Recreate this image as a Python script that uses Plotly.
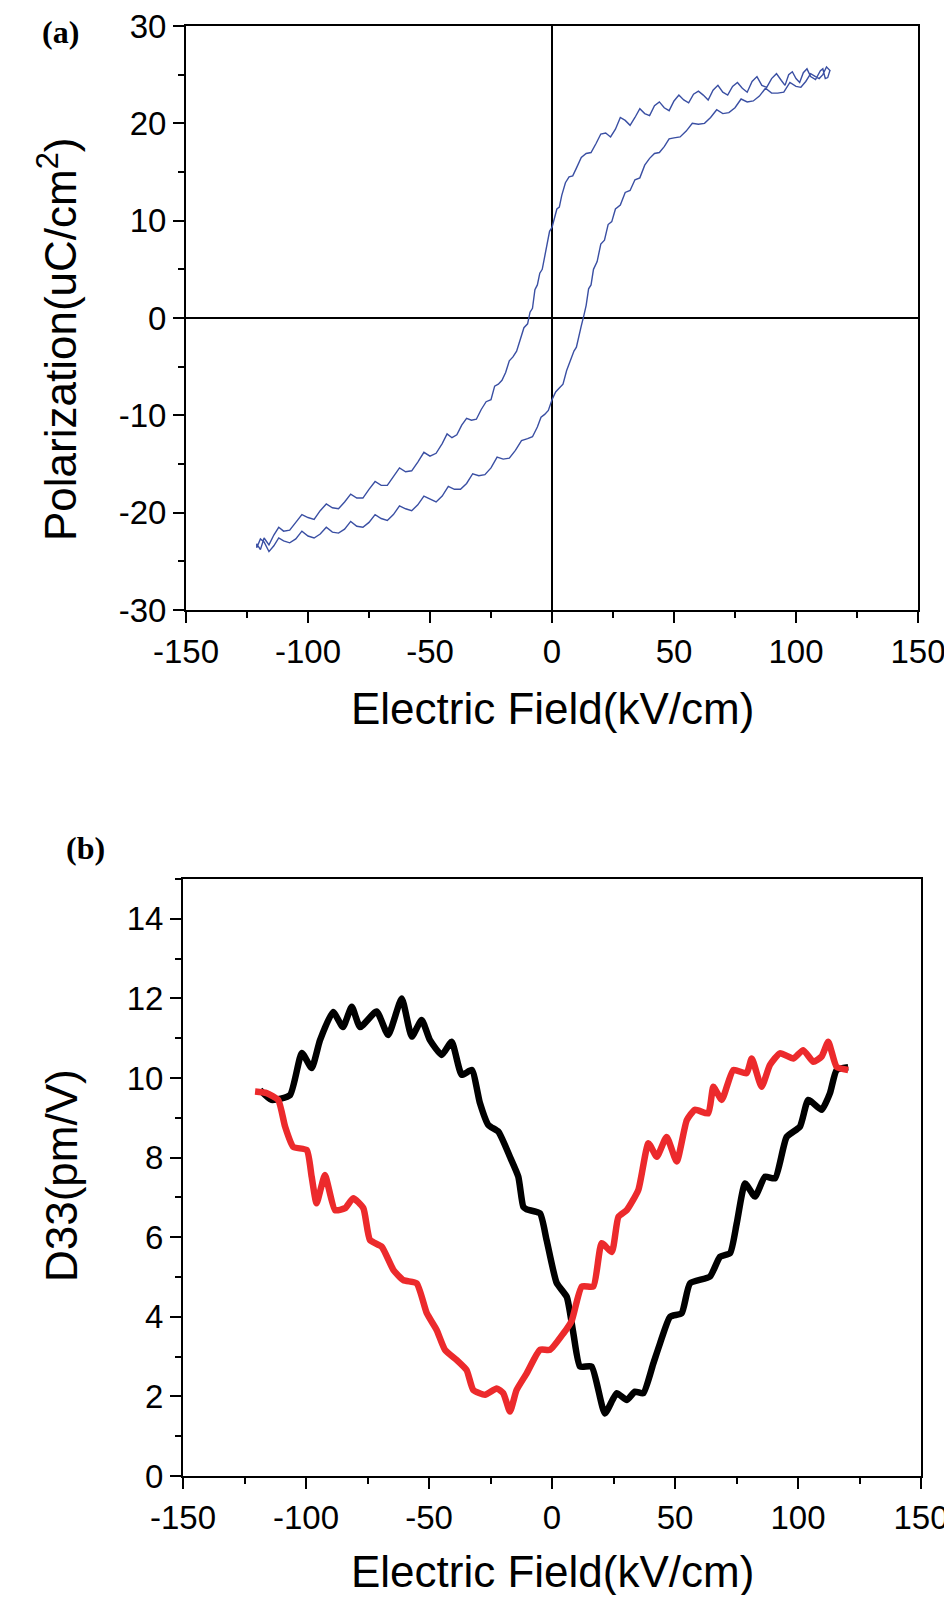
import plotly.graph_objects as go

# ---------------- Panel (a): P-E hysteresis loop ----------------
# descending branch (from +Emax to -Emax)
E_down = [114, 113, 112, 111, 110, 108, 106, 104.5, 103, 101.5, 100, 98.5, 97, 95.5, 94, 92, 90, 88, 86, 84,
          82, 80, 78, 76, 74, 72, 70, 68, 66, 64, 62, 60, 58, 56, 54, 52, 50, 48, 46, 44,
          42, 40, 38, 36, 34, 32, 30, 28, 26, 24, 22, 20, 18, 16, 14, 12, 10, 8.5, 7, 5.5,
          4, 3, 2, 1, 0, -1, -2, -3, -4, -5, -6, -7, -8, -9, -10, -11.5, -13, -14.5, -16, -17.5,
          -19, -20.5, -22, -23.5, -25, -27, -29, -31, -33, -35, -37, -39, -41, -43, -45, -47.5, -50, -52.5, -55, -57.5,
          -60, -62.5, -65, -67.5, -70, -72.5, -75, -77.5, -80, -82.5, -85, -87.5, -90, -92.5, -95, -97.5, -100, -102.5,
          -105, -107.5, -110, -112, -114, -116, -118, -119.5, -121]
P_down = [25.5, 24.7, 24.6, 25.6, 25.4, 24.5, 24.8, 25.6, 25.2, 24.2, 24.6, 25.3, 25.0, 23.9, 24.4, 25.1, 24.6, 23.7, 23.9, 24.8,
          24.3, 23.2, 23.6, 24.2, 23.8, 22.9, 23.2, 23.9, 23.4, 22.4, 22.9, 23.3, 23.0, 22.1, 22.4, 22.9, 22.3, 21.3, 21.6, 22.2,
          21.8, 20.8, 21.0, 21.5, 20.6, 19.8, 20.3, 20.6, 19.4, 18.6, 19.0, 18.9, 17.9, 17.0, 16.9, 16.5, 15.4, 14.6, 14.5, 13.9,
          12.6, 11.4, 11.2, 10.3, 9.3, 8.9, 7.6, 6.6, 5.0, 4.6, 3.4, 2.9, 1.0, 0.6, -0.6, -1.0, -2.3, -3.4, -4.0, -4.4,
          -5.6, -6.4, -6.8, -7.0, -8.4, -8.6, -9.4, -10.4, -10.5, -10.3, -11.0, -12.0, -12.3, -11.9, -12.9, -13.9, -14.2, -13.8, -14.8, -15.7,
          -15.8, -15.4, -16.3, -17.2, -17.2, -16.8, -17.6, -18.5, -18.5, -18.1, -18.9, -19.6, -19.5, -19.1, -19.8, -20.7, -20.5, -20.2,
          -21.0, -21.8, -21.9, -21.5, -22.3, -23.3, -22.6, -23.8, -23.2]
# ascending branch (from -Emax to +Emax)
E_up = [-121, -119.5, -118, -116, -114, -112, -110, -107.5, -105, -102.5, -100, -97.5, -95, -92.5, -90, -87.5, -85, -82.5, -80, -77.5,
        -75, -72.5, -70, -67.5, -65, -62.5, -60, -57.5, -55, -52.5, -50, -47.5, -45, -42.5, -40, -37.5, -35, -32.5, -30, -27.5,
        -25, -22.5, -20, -17.5, -15, -12.5, -10, -8, -6, -4.5, -3, -1.5, 0, 1.5, 3, 4.5, 6, 7.5, 9, 10,
        11, 12, 13, 14, 15, 16, 17, 18.5, 20, 21.5, 23, 24.5, 26, 28, 30, 32, 34, 36, 38, 40,
        42, 44, 46, 48, 50, 52.5, 55, 57.5, 60, 62.5, 65, 67.5, 70, 72.5, 75, 77.5, 80, 82.5, 85, 87.5,
        90, 92.5, 95, 97.5, 100, 102, 104, 106, 108, 109.5, 111, 112.5, 114]
P_up = [-23.6, -22.7, -23.0, -24.0, -23.4, -22.6, -22.9, -23.1, -22.7, -21.9, -22.4, -22.6, -22.2, -21.5, -22.0, -22.1, -21.7, -20.9, -21.4, -21.5,
        -21.0, -20.2, -20.6, -20.8, -20.2, -19.3, -19.6, -19.8, -19.2, -18.3, -18.6, -18.9, -18.3, -17.3, -17.6, -17.6, -17.0, -16.0, -16.2, -16.1,
        -15.4, -14.3, -14.5, -14.4, -13.6, -12.6, -12.4, -12.2, -11.2, -10.2, -9.9, -9.5, -8.4, -7.6, -7.2, -6.8, -5.4, -4.3, -3.4, -3.0,
        -1.8, -0.8, 0.2, 1.3, 3.0, 3.4, 5.0, 5.8, 7.6, 8.0, 9.6, 9.9, 11.2, 11.6, 12.9, 13.1, 14.2, 14.4, 15.7, 16.4,
        16.9, 17.0, 17.6, 18.4, 18.5, 18.6, 19.2, 20.0, 19.9, 20.0, 20.6, 21.4, 21.0, 21.1, 21.6, 22.5, 22.2, 22.3, 22.8, 23.6,
        23.1, 23.1, 23.2, 24.2, 23.8, 23.7, 24.3, 25.1, 24.8, 24.6, 25.0, 25.8, 25.4]

# ---------------- Panel (b): d33 butterfly loops ----------------
E_black = [-118.7, -114, -106.5, -101.7, -97.7, -94.3, -89, -85, -81.4, -78, -71.3, -66.6, -61.1, -57, -53, -49.6,
           -44.8, -40.8, -36.7, -32.6, -29.3, -25.9, -21.8, -17.1, -13.7, -11.7, -10.3, -4.9, -2.2, 1.9, 6, 8.7,
           11.4, 16.1, 21.5, 26.3, 30.4, 33.7, 37.1, 41.2, 43.9, 48, 52.7, 56.1, 64.2, 68.3, 72.4, 75.1, 78.5,
           82.5, 86.6, 90.7, 95.4, 100.8, 104.2, 109.6, 113, 115.7, 120.4]
D_black = [9.70, 9.45, 9.57, 10.63, 10.25, 10.95, 11.66, 11.28, 11.79, 11.28, 11.67, 11.08, 12.0, 11.04, 11.46, 10.95,
           10.58, 10.91, 10.08, 10.2, 9.37, 8.82, 8.65, 8.02, 7.52, 6.77, 6.7, 6.6, 5.93, 4.85, 4.5, 3.58,
           2.75, 2.75, 1.57, 2.08, 1.91, 2.12, 2.08, 2.83, 3.33, 4.0, 4.09, 4.84, 5.01, 5.51, 5.6, 6.35, 7.35,
           7.02, 7.52, 7.48, 8.52, 8.78, 9.45, 9.2, 9.62, 10.2, 10.27]
E_red = [-120.7, -116, -111.3, -108.5, -105.2, -99.7, -97.7, -95.7, -92.3, -88.2, -84.1, -80.8, -76.7, -74, -69.2, -64.5,
         -60.4, -55, -50.9, -46.9, -43.5, -38.7, -34.7, -32, -27.2, -22.5, -19.8, -17.1, -14.4, -10.3, -4.9, -0.8,
         4.6, 8.0, 12.1, 16.8, 20.2, 24.3, 27, 30.4, 35.1, 39.2, 42.6, 46.6, 50.7, 54.8, 58.1, 63.5, 65.6, 69,
         73.7, 79.1, 81.2, 85.2, 88.6, 92.7, 98.1, 102.1, 106.2, 109.6, 112.3, 115.7, 120.4]
D_red = [9.66, 9.62, 9.45, 8.78, 8.27, 8.19, 7.52, 6.85, 7.56, 6.68, 6.73, 6.98, 6.73, 5.93, 5.76, 5.18,
         4.92, 4.84, 4.09, 3.67, 3.17, 2.91, 2.66, 2.16, 2.04, 2.2, 2.08, 1.62, 2.16, 2.58, 3.17, 3.17,
         3.58, 3.9, 4.76, 4.76, 5.85, 5.63, 6.51, 6.68, 7.19, 8.36, 8.02, 8.52, 7.9, 8.94, 9.2, 9.11, 9.78, 9.45,
         10.2, 10.12, 10.49, 9.78, 10.33, 10.62, 10.49, 10.7, 10.41, 10.54, 10.91, 10.28, 10.2]

x_ticks = [-150, -100, -50, 0, 50, 100, 150]
ya_ticks = [-30, -20, -10, 0, 10, 20, 30]
yb_ticks = [0, 2, 4, 6, 8, 10, 12, 14]

FONT = "Arial, Liberation Sans, sans-serif"
TICKFONT = dict(family=FONT, size=33, color="black")

fig = go.Figure()
fig.add_trace(go.Scatter(x=E_down + E_up, y=P_down + P_up, mode="lines",
                         line=dict(color="#3a4fa3", width=1.4), xaxis="x", yaxis="y",
                         showlegend=False))
fig.add_trace(go.Scatter(x=E_black, y=D_black, mode="lines",
                         line=dict(color="black", width=6.5, shape="spline", smoothing=0.5),
                         xaxis="x2", yaxis="y2", showlegend=False))
fig.add_trace(go.Scatter(x=E_red, y=D_red, mode="lines",
                         line=dict(color="#ec2a2c", width=6.5, shape="spline", smoothing=0.5),
                         xaxis="x2", yaxis="y2", showlegend=False))

def xaxis(domain, anchor, zl):
    return dict(domain=domain, anchor=anchor, range=[-150, 150], tickmode="array", tickvals=x_ticks,
                ticktext=[str(v) for v in x_ticks], ticks="outside", ticklen=11, tickwidth=2,
                tickcolor="black", showline=True, linecolor="black", linewidth=2, mirror=True,
                showgrid=False, zeroline=zl, zerolinecolor="black", zerolinewidth=2,
                tickfont=TICKFONT, automargin=False, ticklabeloverflow="allow",
                minor=dict(ticks="outside", ticklen=6, tickwidth=2, tickcolor="black", dtick=25,
                           tick0=-150, showgrid=False))

def yaxis(domain, anchor, rng, tv, dminor, zl):
    return dict(domain=domain, anchor=anchor, range=rng, tickmode="array", tickvals=tv,
                ticktext=[str(v) for v in tv], ticks="outside", ticklen=11, tickwidth=2,
                tickcolor="black", showline=True, linecolor="black", linewidth=2, mirror=True,
                showgrid=False, zeroline=zl, zerolinecolor="black", zerolinewidth=2,
                tickfont=TICKFONT, automargin=False, ticklabeloverflow="allow",
                minor=dict(ticks="outside", ticklen=6, tickwidth=2, tickcolor="black", dtick=dminor,
                           tick0=0, showgrid=False))

# The page body adds an 8 px margin on every side; the figure is sized so the page
# does not overflow, and laid out in coordinates shifted by that offset (OFF).
OFF = 8
W, H = 952 - OFF, 1603 - 2 * OFF

def px(x):
    return (x - OFF) / W

def py(y):
    return 1 - (y - OFF) / H

fig.update_layout(
    width=W, height=H, margin=dict(l=0, r=0, t=0, b=0, pad=0, autoexpand=False),
    paper_bgcolor="white", plot_bgcolor="white",
    xaxis=xaxis([px(186), px(918)], "y", True),
    yaxis=yaxis([py(610), py(26)], "x", [-30, 30], ya_ticks, 5, True),
    xaxis2=xaxis([px(183), px(921)], "y2", False),
    yaxis2=yaxis([py(1476), py(879)], "x2", [0, 15], yb_ticks, 1, False),
)

def ann(text, x, y, size, angle=0, family=FONT, bold=False):
    fig.add_annotation(text=("<b>%s</b>" % text) if bold else text, xref="paper", yref="paper",
                       x=px(x), y=py(y), showarrow=False, textangle=angle,
                       font=dict(family=family, size=size, color="black"),
                       xanchor="center", yanchor="middle")

ann("Electric Field(kV/cm)", 552, 708, 44)
ann("Electric Field(kV/cm)", 552, 1571, 44)
ann("Polarization(uC/cm<sup>2</sup>)", 57, 340, 44, angle=-90)
ann("D33(pm/V)", 61, 1176, 44, angle=-90)
ann("(a)", 60, 32, 32, family="Liberation Serif, Times New Roman, serif", bold=True)
ann("(b)", 85, 848, 32, family="Liberation Serif, Times New Roman, serif", bold=True)

fig.write_html("out.html")
